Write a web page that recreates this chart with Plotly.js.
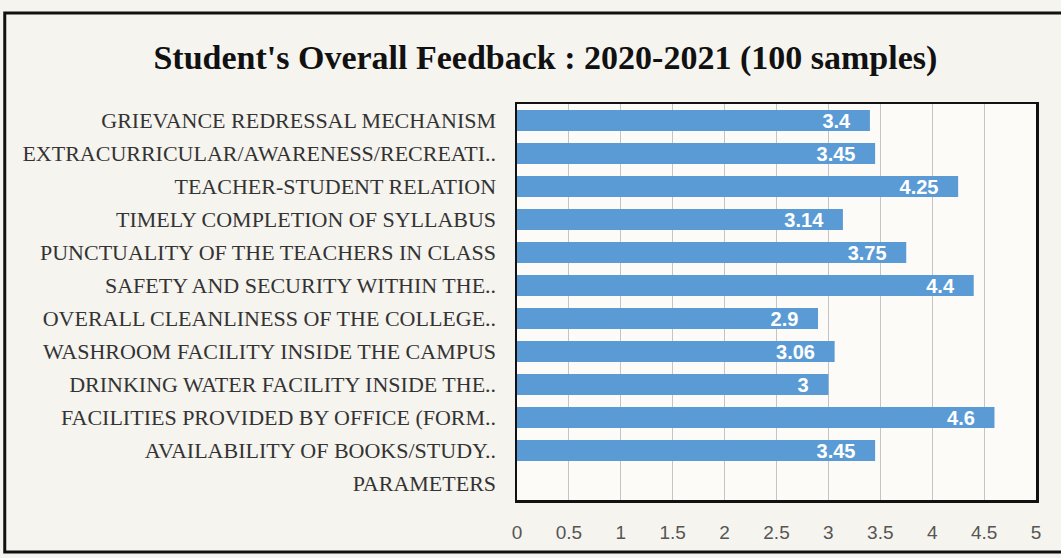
<!DOCTYPE html>
<html>
<head>
<meta charset="utf-8">
<script src="https://cdn.plot.ly/plotly-3.0.1.min.js"></script>
<style>html,body{margin:0;padding:0;background:#f6f4ef;}#chart{width:1061px;height:558px;}</style>
</head>
<body>
<div id="chart"></div>
<script>
var categories = [
  "GRIEVANCE REDRESSAL MECHANISM",
  "EXTRACURRICULAR/AWARENESS/RECREATI..",
  "TEACHER-STUDENT RELATION",
  "TIMELY COMPLETION OF SYLLABUS",
  "PUNCTUALITY OF THE TEACHERS IN CLASS",
  "SAFETY AND SECURITY WITHIN THE..",
  "OVERALL CLEANLINESS OF THE COLLEGE..",
  "WASHROOM FACILITY INSIDE THE CAMPUS",
  "DRINKING WATER FACILITY INSIDE THE..",
  "FACILITIES PROVIDED BY OFFICE (FORM..",
  "AVAILABILITY OF BOOKS/STUDY..",
  "PARAMETERS"
];
var scores = [3.4, 3.45, 4.25, 3.14, 3.75, 4.4, 2.9, 3.06, 3, 4.6, 3.45, null];
var xTicks = [0, 0.5, 1, 1.5, 2, 2.5, 3, 3.5, 4, 4.5, 5];

var trace = {
  type: 'bar',
  orientation: 'h',
  y: categories,
  x: scores,
  width: 0.63,
  marker: {color: '#5b9bd5'},
  text: scores.map(function(v){ return v === null ? '' : String(v) + '\u00a0\u00a0\u00a0'; }),
  textposition: 'inside',
  insidetextanchor: 'end',
  textangle: 0,
  constraintext: 'none',
  textfont: {family: 'Liberation Sans, Arial, sans-serif', size: 20, color: '#ffffff', weight: 'bold'},
  hoverinfo: 'none',
  cliponaxis: false
};

var layout = {
  width: 1061,
  height: 558,
  paper_bgcolor: '#f6f4ef',
  plot_bgcolor: '#fcfbf8',
  margin: {l: 517, r: 25, t: 104, b: 58},
  showlegend: false,
  title: {
    text: "Student's Overall Feedback : 2020-2021 (100 samples)",
    x: 0.514, xanchor: 'center',
    y: 0.898, yanchor: 'middle',
    font: {family: 'Liberation Serif, Times New Roman, serif', size: 34, color: '#111', weight: 'bold'}
  },
  xaxis: {
    range: [0, 5],
    tickvals: xTicks,
    ticktext: xTicks.map(String),
    showgrid: true,
    gridcolor: '#c4c4c4',
    gridwidth: 1,
    zeroline: false,
    showline: true,
    mirror: true,
    linecolor: '#111',
    linewidth: 2.5,
    ticks: 'outside',
    ticklen: 14,
    tickcolor: 'rgba(0,0,0,0)',
    tickfont: {family: 'Liberation Sans, Arial, sans-serif', size: 19, color: '#555'},
    fixedrange: true
  },
  yaxis: {
    type: 'category',
    autorange: 'reversed',
    showgrid: false,
    zeroline: false,
    showline: true,
    mirror: true,
    linecolor: '#111',
    linewidth: 2.5,
    ticks: 'outside',
    ticklen: 14,
    tickcolor: 'rgba(0,0,0,0)',
    tickfont: {family: 'Liberation Serif, Times New Roman, serif', size: 22, color: '#333'},
    fixedrange: true
  },
  shapes: [{
    type: 'rect', xref: 'paper', yref: 'paper',
    x0: -0.987, x1: 1.06, y0: -0.1313, y1: 1.2298,
    line: {color: '#111', width: 3},
    fillcolor: 'rgba(0,0,0,0)',
    layer: 'below'
  }]
};

Plotly.newPlot('chart', [trace], layout, {displayModeBar: false, staticPlot: true});
</script>
</body>
</html>
